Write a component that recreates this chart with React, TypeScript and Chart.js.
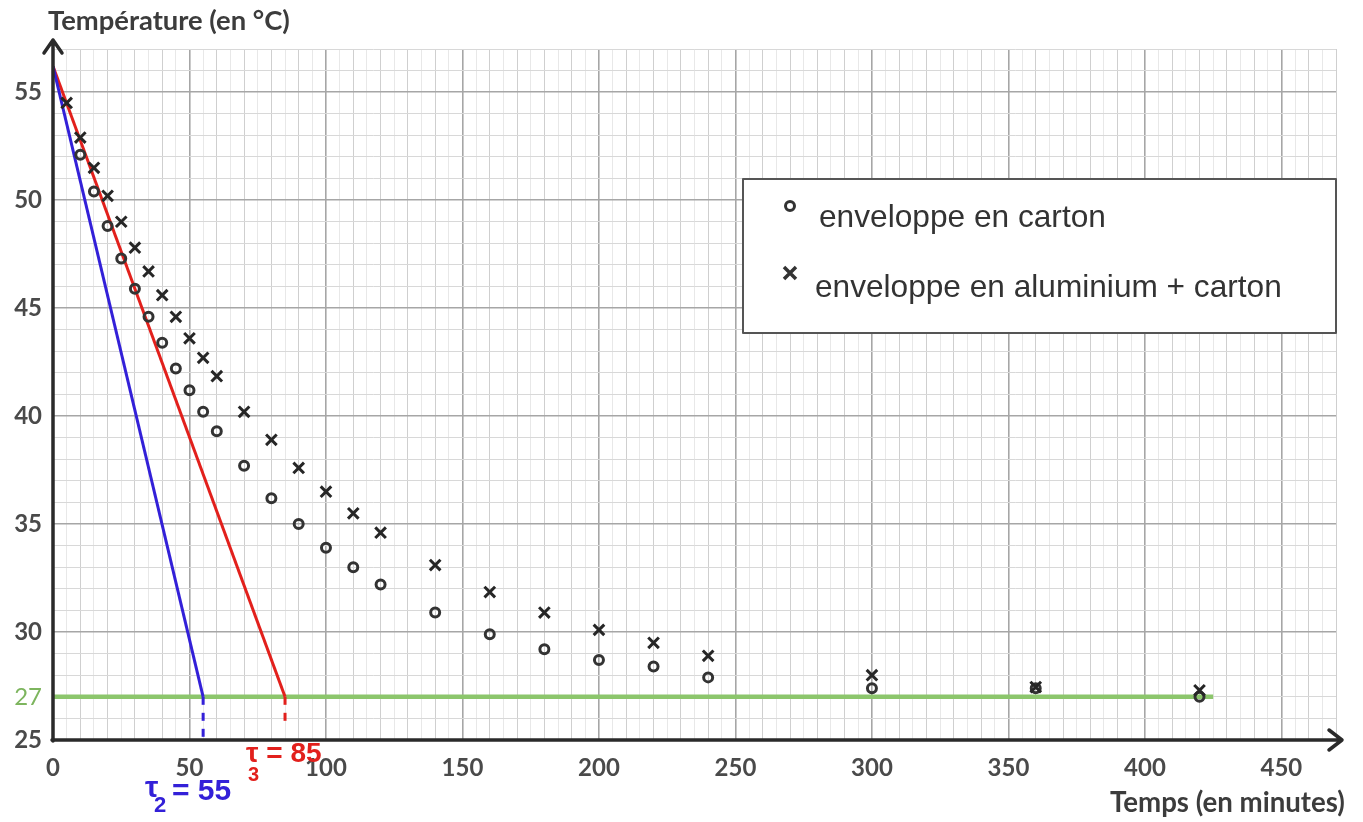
import React, { useEffect, useRef } from "react";
import { Chart, registerables } from "chart.js";

Chart.register(...registerables);

// Data
const cartonTimes = [10, 15, 20, 25, 30, 35, 40, 45, 50, 55, 60, 70, 80, 90, 100, 110, 120, 140, 160, 180, 200, 220, 240, 300, 360, 420];
const cartonTemps = [52.1, 50.4, 48.8, 47.3, 45.9, 44.6, 43.4, 42.2, 41.2, 40.2, 39.3, 37.7, 36.2, 35.0, 33.9, 33.0, 32.2, 30.9, 29.9, 29.2, 28.7, 28.4, 27.9, 27.4, 27.4, 27.0];

const aluTimes = [5, 10, 15, 20, 25, 30, 35, 40, 45, 50, 55, 60, 70, 80, 90, 100, 110, 120, 140, 160, 180, 200, 220, 240, 300, 360, 420];
const aluTemps = [54.5, 52.9, 51.5, 50.2, 49.0, 47.8, 46.7, 45.6, 44.6, 43.6, 42.7, 41.85, 40.2, 38.9, 37.6, 36.5, 35.5, 34.6, 33.1, 31.85, 30.9, 30.1, 29.5, 28.9, 28.0, 27.45, 27.3];

const startTemp = 56.2;
const ambientTemp = 27;
const tau2 = 55;
const tau3 = 85;
const ambientEnd = 425;

const xMin = 0;
const xMax = 470;
const yMin = 25;
const yMax = 57;

const legendLabels = ["enveloppe en carton", "enveloppe en aluminium + carton"];
const yTitle = "Température (en °C)";
const xTitle = "Temps (en minutes)";

const BLUE = "#3320d8";
const RED = "#e2201c";
const GREEN = "#8cc66c";

function fitText(ctx: CanvasRenderingContext2D, text: string, x: number, y: number, width: number, family: string, weight: string, color: string) {
  ctx.font = `${weight} 100px ${family}`;
  const w = ctx.measureText(text).width;
  const size = (100 * width) / w;
  ctx.font = `${weight} ${size}px ${family}`;
  ctx.fillStyle = color;
  ctx.textAlign = "left";
  ctx.textBaseline = "alphabetic";
  ctx.fillText(text, x, y);
}

const deco = {
  id: "deco",
  afterDraw(chart: any) {
    const ctx: CanvasRenderingContext2D = chart.ctx;
    const { left, right, top, bottom } = chart.chartArea;
    ctx.save();
    // axes with arrows
    ctx.strokeStyle = "#2a2a2a";
    ctx.lineWidth = 3.5;
    ctx.lineCap = "round";
    ctx.lineJoin = "round";
    ctx.beginPath();
    ctx.moveTo(left, bottom + 1);
    ctx.lineTo(left, top - 9);
    ctx.moveTo(left - 9, top + 4);
    ctx.lineTo(left, top - 9);
    ctx.lineTo(left + 9, top + 4);
    ctx.stroke();
    ctx.beginPath();
    ctx.moveTo(left - 1, bottom);
    ctx.lineTo(right + 6, bottom);
    ctx.moveTo(right - 7, bottom - 10);
    ctx.lineTo(right + 6, bottom);
    ctx.lineTo(right - 7, bottom + 10);
    ctx.stroke();

    // titles
    fitText(ctx, yTitle, 48, 30, 242, "Lato, 'Open Sans', sans-serif", "bold", "#3c3c3c");
    fitText(ctx, xTitle, 1110, 812, 235, "Lato, 'Open Sans', sans-serif", "bold", "#3c3c3c");

    // legend
    ctx.fillStyle = "#ffffff";
    ctx.fillRect(743, 179, 593, 154);
    ctx.strokeStyle = "#555555";
    ctx.lineWidth = 2;
    ctx.strokeRect(743, 179, 593, 154);
    ctx.strokeStyle = "#333333";
    ctx.lineWidth = 3;
    ctx.beginPath();
    ctx.arc(790, 206, 4.5, 0, Math.PI * 2);
    ctx.stroke();
    ctx.lineWidth = 3.5;
    ctx.lineCap = "butt";
    ctx.beginPath();
    ctx.moveTo(784, 267);
    ctx.lineTo(796, 279);
    ctx.moveTo(796, 267);
    ctx.lineTo(784, 279);
    ctx.stroke();
    fitText(ctx, legendLabels[0], 819, 227, 287, "'Liberation Sans', Arial, sans-serif", "normal", "#333333");
    fitText(ctx, legendLabels[1], 815, 297, 467, "'Liberation Sans', Arial, sans-serif", "normal", "#333333");

    // tau labels
    ctx.fillStyle = BLUE;
    ctx.textAlign = "left";
    ctx.textBaseline = "alphabetic";
    ctx.font = "bold 30px 'Liberation Sans', Arial, sans-serif";
    ctx.fillText("τ", 145, 797);
    ctx.font = "bold 22px 'Liberation Sans', Arial, sans-serif";
    ctx.fillText("2", 154, 812);
    ctx.font = "bold 30px 'Liberation Sans', Arial, sans-serif";
    ctx.fillText("= 55", 172, 800);

    ctx.fillStyle = RED;
    ctx.font = "bold 28px 'Liberation Sans', Arial, sans-serif";
    ctx.fillText("τ = 85", 246, 762);
    ctx.font = "bold 20px 'Liberation Sans', Arial, sans-serif";
    ctx.fillText("3", 248, 781);
    ctx.restore();
  },
};

export default function App() {
  const ref = useRef<HTMLCanvasElement | null>(null);
  useEffect(() => {
    if (!ref.current) return;
    const chart = new Chart(ref.current, {
      type: "scatter",
      data: {
        datasets: [
          {
            label: legendLabels[1],
            data: aluTimes.map((t, i) => ({ x: t, y: aluTemps[i] })),
            pointStyle: "crossRot",
            pointRadius: 7.5,
            borderColor: "#262626",
            backgroundColor: "#262626",
            pointBorderWidth: 3,
          },
          {
            label: legendLabels[0],
            data: cartonTimes.map((t, i) => ({ x: t, y: cartonTemps[i] })),
            pointStyle: "circle",
            pointRadius: 4.5,
            borderColor: "#333333",
            backgroundColor: "rgba(255,255,255,0)",
            pointBorderWidth: 3,
          },
          {
            label: "tau2",
            data: [{ x: 0, y: startTemp }, { x: tau2, y: ambientTemp }],
            showLine: true,
            borderColor: BLUE,
            borderWidth: 3,
            pointRadius: 0,
          },
          {
            label: "tau3",
            data: [{ x: 0, y: startTemp }, { x: tau3, y: ambientTemp }],
            showLine: true,
            borderColor: RED,
            borderWidth: 3,
            pointRadius: 0,
          },
          {
            label: "tau2 dash",
            data: [{ x: tau2, y: ambientTemp }, { x: tau2, y: yMin - 0.2 }],
            showLine: true,
            borderColor: BLUE,
            borderWidth: 3,
            borderDash: [8, 8],
            pointRadius: 0,
            clip: false,
          },
          {
            label: "tau3 dash",
            data: [{ x: tau3, y: ambientTemp }, { x: tau3, y: yMin + 0.6 }],
            showLine: true,
            borderColor: RED,
            borderWidth: 3,
            borderDash: [8, 8],
            pointRadius: 0,
            clip: false,
          },
          {
            label: "ambient",
            data: [{ x: 0, y: ambientTemp }, { x: ambientEnd, y: ambientTemp }],
            showLine: true,
            borderColor: GREEN,
            borderWidth: 4.5,
            pointRadius: 0,
          },
        ],
      },
      options: {
        animation: false,
        responsive: false,
        layout: { padding: { top: 49, right: 27, left: 0, bottom: 0 } },
        plugins: { legend: { display: false }, tooltip: { enabled: false } },
        scales: {
          x: {
            type: "linear",
            min: xMin,
            max: xMax,
            afterFit: (s: any) => { s.height = 82; },
            border: { display: false },
            grid: {
              drawTicks: false,
              color: (c: any) => {
                const v = c.tick.value;
                if (v % 50 === 0) return "#a6a6a6";
                if (v % 10 === 0) return "#cfcfcf";
                return "#e8e8e8";
              },
              lineWidth: (c: any) => (c.tick.value % 50 === 0 ? 1.6 : 1),
            },
            ticks: {
              stepSize: 5,
              autoSkip: false,
              maxRotation: 0,
              padding: 14,
              color: "#4a4a4a",
              font: { family: "Lato, 'Open Sans', sans-serif", size: 24, weight: "bold" },
              callback: (v: any) => (v % 50 === 0 ? String(v) : ""),
            },
          },
          y: {
            type: "linear",
            min: yMin,
            max: yMax,
            afterFit: (s: any) => { s.width = 53; },
            border: { display: false },
            grid: {
              drawTicks: false,
              color: (c: any) => (c.tick.value % 5 === 0 ? "#a6a6a6" : "#d8d8d8"),
              lineWidth: (c: any) => (c.tick.value % 5 === 0 ? 1.6 : 1),
            },
            ticks: {
              stepSize: 1,
              autoSkip: false,
              padding: 11,
              color: (c: any) => (c.tick && c.tick.value === ambientTemp ? "#7db55e" : "#4a4a4a"),
              font: (c: any) => ({
                family: "Lato, 'Open Sans', sans-serif",
                size: 24,
                weight: c.tick && c.tick.value === ambientTemp ? "normal" : "bold",
              }),
              callback: (v: any) => (v % 5 === 0 || v === ambientTemp ? String(v) : ""),
            },
          },
        },
      },
      plugins: [deco],
    } as any);
    return () => chart.destroy();
  }, []);
  return (
    <div style={{ position: "absolute", left: 0, top: 0, width: 1363, height: 822, background: "#ffffff" }}>
      <canvas ref={ref} width={1363} height={822} style={{ width: 1363, height: 822, display: "block" }} />
    </div>
  );
}
